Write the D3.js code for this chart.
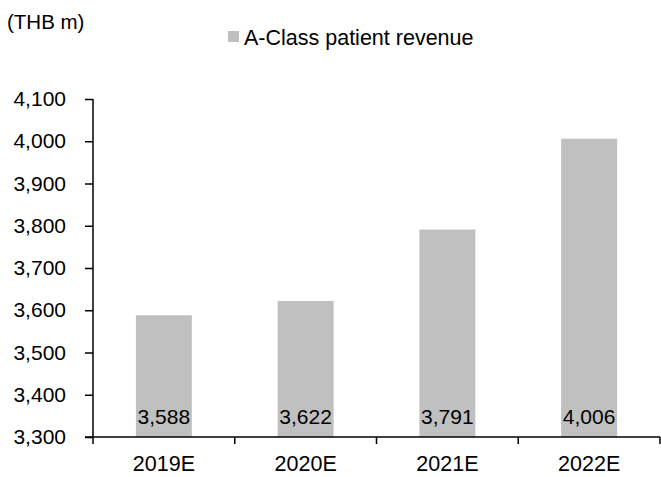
<!DOCTYPE html>
<html>
<head>
<meta charset="utf-8">
<script src="https://cdn.jsdelivr.net/npm/d3@7"></script>
<style>
  html, body { margin: 0; padding: 0; background: #fff; }
  svg { display: block; }
  text { font-family: "Liberation Sans", Arial, sans-serif; fill: #000; }
</style>
</head>
<body>
<svg id="chart" width="661" height="477"></svg>
<script>
const categories = ["2019E", "2020E", "2021E", "2022E"];
const revenue = [3588, 3622, 3791, 4006];
const yTicks = [3300, 3400, 3500, 3600, 3700, 3800, 3900, 4000, 4100];
const seriesName = "A-Class patient revenue";
const unitLabel = "(THB m)";

const svg = d3.select("#chart");
const W = 661, H = 477;
const m = { left: 93, right: 1, top: 99, bottom: 40 };

const x = d3.scaleBand().domain(categories).range([m.left, W - m.right]).paddingInner(0.605).paddingOuter(0.3025);
const y = d3.scaleLinear().domain([3300, 4100]).range([H - m.bottom, m.top]);

const fmt = d3.format(",");
const barColor = "#c0c0c0";
const fs = 21;

// bars
svg.append("g").selectAll("rect").data(revenue).join("rect")
  .attr("x", (d, i) => x(categories[i]))
  .attr("y", d => y(d))
  .attr("width", x.bandwidth())
  .attr("height", d => y(3300) - y(d))
  .attr("fill", barColor);

// bar labels
svg.append("g").selectAll("text").data(revenue).join("text")
  .attr("x", (d, i) => x(categories[i]) + x.bandwidth() / 2)
  .attr("y", y(3300) - 13)
  .attr("text-anchor", "middle")
  .style("font-size", fs + "px")
  .text(d => fmt(d));

// y axis
const yAxis = svg.append("g").attr("transform", `translate(${m.left},0)`)
  .call(d3.axisLeft(y).tickValues(yTicks).tickFormat(fmt).tickSize(8).tickPadding(19));
yAxis.select(".domain").attr("d", `M0,${y(4100)}V${y(3300)}`).attr("stroke", "#000").attr("stroke-width", 1.5);
yAxis.selectAll(".tick line").attr("stroke", "#000").attr("stroke-width", 1.5);
yAxis.selectAll(".tick text").style("font-size", fs + "px").attr("font-family", null);

// x axis
const xAxis = svg.append("g").attr("transform", `translate(0,${y(3300)})`)
  .call(d3.axisBottom(x).tickSize(0).tickPadding(19));
xAxis.select(".domain").attr("d", `M${m.left - 8},0H${W - m.right}`).attr("stroke", "#000").attr("stroke-width", 1.5);
xAxis.selectAll(".tick text").style("font-size", (fs + 0.5) + "px").attr("font-family", null);
// category boundary ticks
const edges = d3.range(categories.length + 1).map(i => m.left + i * (W - m.right - m.left) / categories.length);
xAxis.append("g").selectAll("line").data(edges).join("line")
  .attr("x1", d => d).attr("x2", d => d)
  .attr("y1", 0).attr("y2", 7)
  .attr("stroke", "#000").attr("stroke-width", 1.5);

// unit label
svg.append("text").attr("x", 7).attr("y", 29).style("font-size", "20.5px").text(unitLabel);

// legend
svg.append("rect").attr("x", 228).attr("y", 31).attr("width", 11).attr("height", 11).attr("fill", barColor);
svg.append("text").attr("x", 244).attr("y", 45).style("font-size", "21.5px").text(seriesName);
</script>
</body>
</html>
